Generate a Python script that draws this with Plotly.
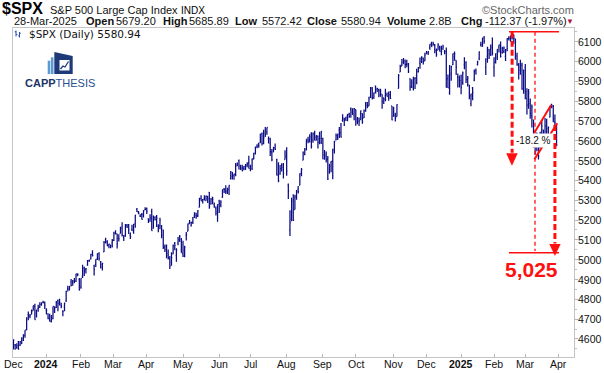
import plotly.graph_objects as go
import pandas as pd

# ---------------- data (S&P 500 daily OHLC, Dec-2023 .. 28-Mar-2025) ----------------
holidays = ["2023-12-25", "2024-01-01", "2024-01-15", "2024-02-19", "2024-03-29", "2024-05-27",
            "2024-06-19", "2024-07-04", "2024-09-02", "2024-11-28", "2024-12-25", "2025-01-01",
            "2025-01-09", "2025-01-20", "2025-02-17"]

opens = [
    4559,4569,4557,4586,4568,4576,4593,4618,4646,4721,4714,4725,4743,4764,4724,4753,4759,4773,4786,4782,
    4746,4726,4698,4690,4704,4742,4759,4793,4791,4772,4740,4762,4796,4853,4856,4889,4887,4888,4892,4925,4900,
    4862,4916,4958,4951,4973,4996,5004,5027,4967,4976,5004,5032,4990,4963,5039,5101,5093,5075,5067,5085,
    5098,5131,5130,5109,5132,5164,5111,5124,5173,5176,5124,5154,5140,5181,5254,5243,5220,5229,5226,5253,
    5257,5206,5194,5244,5158,5212,5218,5168,5172,5171,5149,5065,5068,5032,5005,4988,5029,5084,5020,5084,5115,5103,
    5030,5050,5123,5143,5187,5170,5189,5225,5234,5221,5264,5310,5303,5305,5298,5319,5340,5281,5316,5278,5260,5244,
    5297,5275,5315,5357,5343,5341,5354,5409,5441,5424,5431,5477,5500,5457,5460,5461,5460,5474,5488,
    5471,5461,5507,5537,5572,5585,5591,5636,5590,5638,5644,5610,5608,5543,5544,5566,5505,5429,5433,5477,5479,5505,
    5537,5376,5151,5206,5294,5253,5313,5355,5376,5442,5503,5531,5558,5603,5604,5637,5603,5640,5602,5624,5607,5612,
    5612,5507,5529,5507,5443,5490,5496,5558,5604,5616,5655,5641,5703,5709,5711,5727,5733,5762,5755,5727,
    5757,5698,5698,5737,5737,5715,5751,5778,5775,5822,5866,5817,5876,5860,5858,5833,5835,5817,5826,5833,5818,5832,5776,
    5723,5725,5722,5864,5947,5977,6008,6003,5985,5989,5912,5875,5866,5914,5929,5949,5992,6001,6015,6003,
    6040,6042,6069,6089,6082,6084,6058,6058,6074,6069,6063,6052,6048,5913,5842,5941,5984,6025,6006,5920,5920,
    5903,5892,5983,5994,5910,5882,5788,5867,5906,5955,5985,6015,6082,6076,6121,5970,6027,6058,6062,6082,
    5970,5998,6021,6072,6083,6046,6050,6026,6061,6115,6122,6118,6135,6114,6027,5983,5971,5982,5857,
    5969,5812,5782,5788,5726,5705,5603,5624,5595,5564,5636,5655,5632,5646,5630,5719,5775,5772,5696,5679,
]
highs = [
    4599,4574,4578,4590,4590,4609,4623,4644,4709,4738,4726,4749,4768,4778,4748,4773,4785,4785,4793,4789,
    4755,4730,4727,4721,4764,4765,4791,4799,4803,4783,4745,4784,4843,4869,4867,4903,4898,4907,4929,4932,4907,
    4906,4975,4964,4958,4999,5000,5030,5048,4975,5002,5032,5038,4994,4984,5094,5111,5098,5081,5077,5105,
    5141,5149,5131,5128,5166,5189,5125,5180,5180,5180,5137,5176,5180,5225,5261,5246,5229,5235,5249,5265,
    5263,5209,5229,5257,5223,5219,5225,5179,5212,5175,5152,5076,5077,5052,5019,5038,5076,5089,5058,5114,5124,5110,
    5096,5070,5140,5182,5200,5192,5215,5239,5237,5251,5312,5325,5305,5325,5324,5323,5342,5311,5316,5288,5268,5280,
    5303,5300,5354,5362,5376,5362,5376,5448,5442,5432,5488,5490,5506,5479,5479,5473,5483,5491,5524,
    5479,5510,5539,5571,5583,5590,5636,5642,5655,5670,5667,5622,5615,5558,5570,5586,5509,5492,5478,5487,5488,5552,
    5567,5384,5250,5312,5330,5328,5351,5372,5436,5463,5546,5564,5608,5620,5633,5643,5642,5651,5628,5627,5646,5648,
    5615,5553,5546,5523,5484,5497,5560,5600,5637,5636,5670,5690,5734,5716,5721,5735,5741,5768,5764,5765,
    5758,5720,5718,5753,5739,5758,5796,5796,5822,5871,5871,5843,5879,5867,5863,5863,5835,5818,5862,5843,5848,5851,5776,
    5772,5742,5784,5937,5983,6012,6018,6010,6009,5993,5915,5910,5923,5920,5964,5972,6020,6026,6020,6044,
    6053,6052,6087,6100,6099,6088,6066,6092,6079,6079,6085,6058,6070,5935,5982,5979,6040,6050,6006,5940,5929,
    5935,5950,6021,6001,5927,5882,5837,5871,5960,5965,6004,6051,6100,6119,6129,6017,6074,6063,6086,6121,
    6022,6042,6062,6084,6101,6074,6076,6063,6117,6128,6130,6145,6136,6115,6044,5992,6009,5994,5959,
    5987,5865,5861,5813,5783,5706,5636,5642,5598,5645,5704,5655,5715,5711,5672,5775,5787,5780,5732,5686,
]
lows = [
    4547,4546,4551,4546,4565,4575,4590,4606,4644,4694,4705,4724,4743,4697,4708,4737,4758,4768,4780,4751,
    4723,4700,4688,4683,4699,4731,4756,4740,4769,4755,4715,4740,4786,4839,4845,4866,4869,4881,4887,4917,4845,
    4853,4907,4918,4930,4970,4988,5001,5016,4920,4963,4999,4995,4955,4946,5039,5082,5069,5058,5058,5062,
    5094,5127,5057,5092,5132,5117,5094,5116,5160,5130,5104,5145,5131,5161,5240,5229,5216,5203,5213,5249,
    5230,5185,5191,5146,5157,5198,5165,5138,5153,5108,5054,5039,5007,5001,4953,4970,5027,5047,4990,5073,5089,5035,
    5014,5012,5097,5143,5179,5168,5180,5210,5206,5215,5264,5297,5283,5299,5297,5286,5257,5278,5280,5262,5223,5191,
    5235,5265,5313,5336,5331,5332,5327,5404,5404,5403,5421,5472,5455,5453,5446,5451,5452,5467,5460,
    5446,5452,5507,5531,5562,5565,5587,5576,5583,5619,5631,5588,5523,5497,5542,5553,5425,5391,5429,5445,5410,5505,
    5424,5306,5119,5194,5195,5253,5302,5334,5376,5421,5502,5527,5551,5587,5591,5561,5590,5602,5602,5561,5583,5584,
    5507,5504,5490,5402,5434,5441,5406,5536,5601,5604,5614,5616,5696,5674,5700,5699,5716,5716,5730,5704,
    5676,5683,5675,5703,5686,5715,5746,5764,5775,5816,5808,5812,5840,5846,5820,5822,5762,5785,5800,5823,5802,5811,5703,
    5723,5697,5722,5864,5947,5977,5986,5966,5971,5942,5853,5866,5854,5861,5885,5945,5963,5993,5985,6003,
    6036,6033,6059,6074,6079,6041,6024,6058,6050,6032,6059,6036,5867,5866,5832,5903,5982,6004,5932,5869,5869,
    5835,5883,5961,5891,5874,5809,5774,5805,5900,5935,5980,6006,6076,6075,6089,5932,5994,6012,6028,6030,
    5923,5990,6007,6045,6020,6039,6043,6003,6052,6106,6100,6111,6089,6009,5979,5909,5933,5858,5837,
    5810,5733,5762,5711,5667,5565,5529,5547,5505,5564,5632,5598,5622,5632,5598,5719,5764,5694,5671,5572,
]
closes = [
    4595,4570,4567,4549,4586,4604,4622,4644,4707,4720,4719,4741,4768,4698,4747,4755,4775,4782,4783,4770,
    4743,4705,4689,4697,4764,4757,4783,4780,4784,4766,4739,4781,4840,4850,4865,4869,4894,4891,4928,4925,4846,
    4906,4959,4943,4954,4995,4998,5027,5022,4953,5001,5030,5006,4976,4982,5087,5089,5070,5078,5070,5096,
    5137,5131,5079,5105,5157,5124,5118,5175,5165,5150,5117,5149,5179,5225,5242,5234,5218,5204,5248,5254,
    5244,5206,5211,5147,5204,5202,5210,5161,5199,5123,5062,5051,5022,5011,4967,5011,5071,5072,5048,5100,5116,5036,
    5018,5064,5128,5181,5188,5188,5214,5223,5221,5247,5308,5297,5303,5308,5321,5307,5268,5305,5306,5267,5235,5278,
    5283,5291,5354,5353,5347,5361,5375,5421,5434,5432,5473,5487,5473,5465,5448,5469,5478,5483,5460,
    5475,5509,5537,5567,5573,5577,5634,5585,5615,5631,5667,5588,5545,5505,5564,5556,5427,5399,5459,5464,5436,5522,
    5447,5347,5186,5240,5200,5319,5344,5344,5434,5455,5543,5554,5608,5597,5621,5571,5635,5617,5626,5592,5592,5648,
    5529,5520,5503,5408,5471,5496,5554,5596,5626,5633,5635,5618,5714,5703,5719,5733,5722,5745,5738,5762,
    5709,5710,5700,5751,5696,5751,5792,5780,5815,5860,5815,5842,5841,5865,5854,5851,5797,5810,5808,5824,5833,5814,5705,
    5729,5713,5783,5929,5973,5996,6001,5984,5985,5949,5871,5894,5917,5917,5949,5969,5987,6022,5999,6032,
    6047,6050,6086,6075,6090,6053,6035,6084,6051,6051,6074,6051,5872,5867,5931,5974,6040,6038,5971,5907,5882,
    5869,5942,5975,5909,5918,5827,5836,5843,5950,5937,5997,6049,6086,6119,6101,6012,6068,6039,6071,6041,
    5995,6038,6061,6084,6026,6066,6069,6052,6115,6115,6130,6144,6118,6013,5983,5955,5956,5862,5955,
    5850,5778,5843,5739,5770,5615,5572,5599,5522,5639,5675,5615,5675,5663,5668,5768,5777,5712,5693,5581,
]

y_ticks = list(range(4600, 6101, 100))
target_label = "5,025"
drop_label = "-18.2 %"

# ---------------- build ----------------
dates = [d for d in pd.bdate_range("2023-12-01", "2025-03-28") if d.strftime("%Y-%m-%d") not in holidays]
n = len(dates)
assert len(opens) == len(highs) == len(lows) == len(closes) == n, (n, len(opens), len(highs), len(lows), len(closes))
xs = list(range(n))

tickvals, ticktext, prev = [], [], None
for i, d in enumerate(dates):
    key = (d.year, d.month)
    if key != prev:
        tickvals.append(i)
        ticktext.append(f"<b>{d.year}</b>" if d.month == 1 else d.strftime("%b"))
        prev = key
tickvals.append(n)
ticktext.append("Apr")

NAVY = "#0c0c84"
RED = "#ff1010"
FONT = "Liberation Sans, Arial, sans-serif"

fig = go.Figure(go.Ohlc(
    x=xs, open=opens, high=highs, low=lows, close=closes,
    increasing=dict(line=dict(color=NAVY, width=1.25)),
    decreasing=dict(line=dict(color=NAVY, width=1.25)),
    tickwidth=0.5, showlegend=False, hoverinfo="skip"))

L, R, T, B = 13, 574, 28, 357
def X(p): return (p - L) / (R - L)
def Y(p): return (B - p) / (B - T)

shapes = []
# red annotations (data coordinates)
shapes.append(dict(type="line", xref="x", yref="y", x0=301.1, x1=331.5, y0=6150, y1=6150,
                   line=dict(color=RED, width=1.5)))
shapes.append(dict(type="line", xref="x", yref="y", x0=301.1, x1=331.5, y0=5035, y1=5035,
                   line=dict(color=RED, width=1.5)))
shapes.append(dict(type="line", xref="x", yref="y", x0=303, x1=303, y0=6150, y1=5540,
                   line=dict(color=RED, width=3, dash="6px,3px")))
shapes.append(dict(type="path", xref="x", yref="y", path="M 299.4,5537 L 306.4,5537 L 302.9,5474 Z",
                   fillcolor=RED, line=dict(width=0)))
shapes.append(dict(type="line", xref="x", yref="y", x0=316.9, x1=316.9, y0=6150, y1=5044,
                   line=dict(color=RED, width=1.3, dash="4px,3px")))
shapes.append(dict(type="line", xref="x", yref="y", x0=329, x1=329, y0=5680, y1=5082,
                   line=dict(color=RED, width=3, dash="6px,3px")))
shapes.append(dict(type="path", xref="x", yref="y", path="M 325.6,5079 L 332.5,5079 L 329,5019 Z",
                   fillcolor=RED, line=dict(width=0)))
shapes.append(dict(type="line", xref="x", yref="y", x0=316.5, x1=326.7, y0=5641, y1=5780,
                   line=dict(color=RED, width=2)))
shapes.append(dict(type="line", xref="x", yref="y", x0=316.5, x1=330.4, y0=5506, y1=5688,
                   line=dict(color=RED, width=2)))

# logo (paper coordinates from pixel positions)
LB = "#5b9bd5"
DN = "#1e3a78"
shapes.append(dict(type="rect", xref="paper", yref="paper", x0=X(47.7), x1=X(50.3), y0=Y(74), y1=Y(60.7),
                   fillcolor=LB, line=dict(width=0)))
shapes.append(dict(type="rect", xref="paper", yref="paper", x0=X(50.9), x1=X(53.5), y0=Y(74), y1=Y(57.3),
                   fillcolor=LB, line=dict(width=0)))
shapes.append(dict(type="path", xref="paper", yref="paper",
                   path=f"M {X(54.3)},{Y(52)} L {X(72.7)},{Y(56)} L {X(72.7)},{Y(74)} L {X(54.3)},{Y(74)} Z",
                   fillcolor=DN, line=dict(width=0)))
shapes.append(dict(type="rect", xref="paper", yref="paper", x0=X(59.5), x1=X(69.5), y0=Y(70.5), y1=Y(60),
                   fillcolor="white", line=dict(width=0)))
shapes.append(dict(type="path", xref="paper", yref="paper",
                   path=f"M {X(60.5)},{Y(69)} L {X(63)},{Y(66)} L {X(65)},{Y(67)} L {X(68.5)},{Y(61.5)}",
                   fillcolor="rgba(0,0,0,0)", line=dict(color=DN, width=1.3)))
# small legend icon
IC = "#2a4dbd"
for (xx, ya, yb, tl, tr) in [(16, 30.5, 36.5, 31.8, 34.5), (19.5, 32, 37.5, 35.8, 33.2)]:
    shapes.append(dict(type="line", xref="paper", yref="paper", x0=X(xx), x1=X(xx), y0=Y(ya), y1=Y(yb),
                       line=dict(color=IC, width=1)))
    shapes.append(dict(type="line", xref="paper", yref="paper", x0=X(xx - 1.3), x1=X(xx), y0=Y(tl), y1=Y(tl),
                       line=dict(color=IC, width=1)))
    shapes.append(dict(type="line", xref="paper", yref="paper", x0=X(xx), x1=X(xx + 1.3), y0=Y(tr), y1=Y(tr),
                       line=dict(color=IC, width=1)))

ann = []
def txt(s, x, y, size=11, bold=False, color="#000", anchor="left", family=FONT):
    ann.append(dict(text=f"<b>{s}</b>" if bold else s, xref="paper", yref="paper", x=X(x), y=Y(y),
                    xanchor=anchor, yanchor="middle", showarrow=False,
                    font=dict(size=size, color=color, family=family), borderpad=0))

txt("$SPX", 1, 9, size=16, bold=True)
txt("S&P 500 Large Cap Index", 49, 10, size=11, color="#111")
txt("INDX", 180, 10.5, size=10)
txt("©StockCharts.com", 575, 10, size=11, color="#666", anchor="right")
line2 = [("28-Mar-2025", 12.5, False), ("Open", 85, True), ("5679.20", 115, False),
         ("High", 161.5, True), ("5685.89", 188.5, False), ("Low", 233.5, True), ("5572.42", 260.5, False),
         ("Close", 305.5, True), ("5580.94", 339.5, False), ("Volume", 385.5, True), ("2.8B", 427.5, False),
         ("Chg", 459.5, True), ("-112.37 (-1.97%)", 484, False)]
for s, x, b in line2:
    txt(s, x, 21, size=11, bold=b, color="#111")
txt("▼", 565, 21.5, size=8, color="#b0143c")
txt("$SPX (Daily) 5580.94", 27.5, 33.5, size=10.5, color="#111", family="DejaVu Sans, Verdana, sans-serif")
ann.append(dict(text="<b>CAPP</b><span style='color:#2b4f8f'>THESIS</span>", xref="paper", yref="paper",
                x=X(23.5), y=Y(83), xanchor="left", yanchor="middle", showarrow=False, borderpad=0,
                font=dict(size=11, color="#1c3466", family=FONT)))
# axis tick labels placed through the axes' own scales
for v, t in zip(tickvals, ticktext):
    ann.append(dict(text=t, xref="x", yref="paper", x=v, y=Y(364), xanchor="center", yanchor="middle",
                    showarrow=False, borderpad=0, font=dict(size=10.5, color="#111", family=FONT)))
for v in y_ticks:
    ann.append(dict(text=str(v), xref="paper", yref="y", x=X(576.5), y=v, xanchor="left", yanchor="middle",
                    showarrow=False, borderpad=0, font=dict(size=10.5, color="#111", family=FONT)))
# chart annotations (data coordinates)
ann.append(dict(text=f"<b>{target_label}</b>", xref="x", yref="y", x=314.5, y=4950, showarrow=False,
                xanchor="center", yanchor="middle", font=dict(size=21, color=RED, family=FONT)))
ann.append(dict(text=drop_label, xref="x", yref="y", x=315.9, y=5599, showarrow=False,
                xanchor="center", yanchor="middle", bgcolor="white", borderpad=1,
                font=dict(size=10, color="#111", family=FONT)))

fig.update_layout(
    template="none", width=604, height=373,
    margin=dict(l=L, r=604 - R, t=T, b=373 - B, pad=0),
    paper_bgcolor="white", plot_bgcolor="white", showlegend=False,
    font=dict(family=FONT, size=11, color="#111"),
    shapes=shapes, annotations=ann,
    xaxis=dict(range=[-0.3, 340.6], tickmode="array", tickvals=tickvals, showticklabels=False,
               ticks="inside", ticklen=3, tickcolor="#b5b5b5", showline=True, linecolor="#c4c4c4",
               linewidth=1, mirror=True, showgrid=False, zeroline=False, automargin=False,
               rangeslider=dict(visible=False)),
    yaxis=dict(side="right", range=[4509, 6169], tickmode="array", tickvals=y_ticks, showticklabels=False,
               ticks="outside", ticklen=3, tickcolor="#b5b5b5", showline=True, linecolor="#c4c4c4",
               linewidth=1, mirror=True, showgrid=False, zeroline=False, automargin=False,
               minor=dict(ticks="outside", ticklen=2, tickcolor="#c0c0c0", dtick=50, showgrid=False)),
)

fig.write_html("out.html", config={"displayModeBar": False},
               post_script="document.body.style.margin='0px';document.body.style.overflow='hidden';")
